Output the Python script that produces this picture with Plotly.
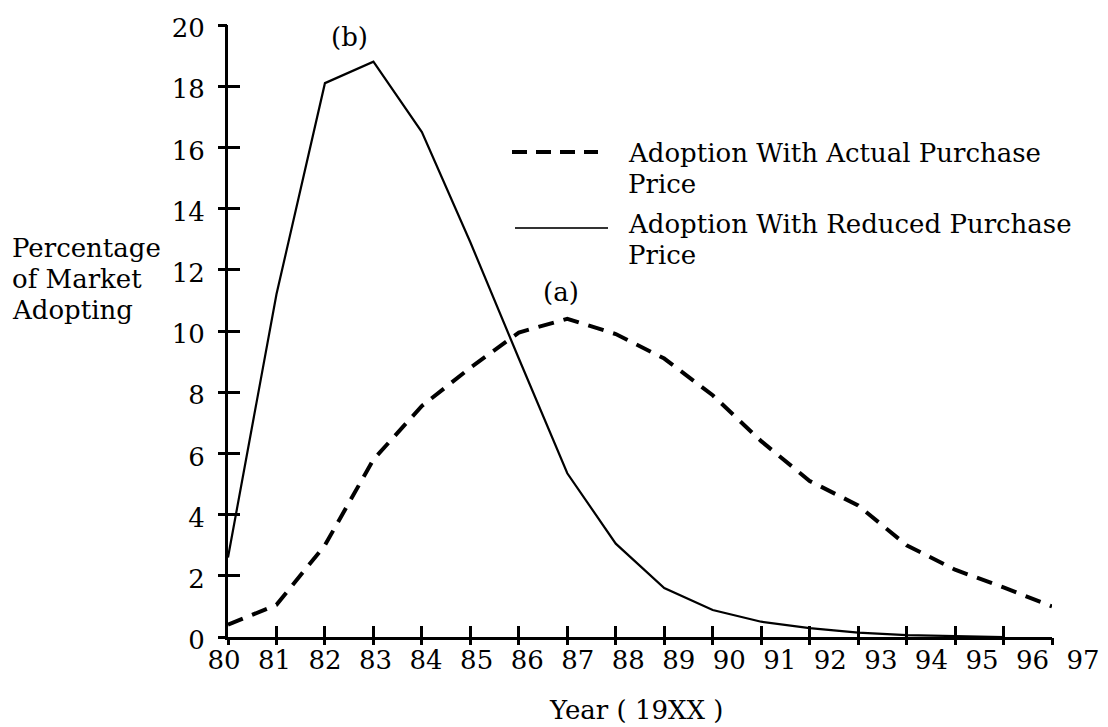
import plotly.graph_objects as go

# ---- data ----
years_reduced = [80, 81, 82, 83, 84, 85, 86, 87, 88, 89, 90, 91, 92, 93, 94, 95, 96]
adopt_reduced = [2.6, 11.2, 18.1, 18.8, 16.5, 12.9, 9.1, 5.35, 3.05, 1.6, 0.88, 0.5, 0.29, 0.14, 0.06, 0.02, 0.0]
years_actual = [80, 81, 82, 83, 84, 85, 86, 87, 88, 89, 90, 91, 92, 93, 94, 95, 96, 97]
adopt_actual = [0.4, 1.05, 3.0, 5.8, 7.55, 8.8, 9.95, 10.4, 9.9, 9.1, 7.9, 6.4, 5.1, 4.3, 3.0, 2.2, 1.62, 1.0]
x_ticks = list(range(80, 98))
x_tick_labels = [str(v) for v in x_ticks]
y_ticks = list(range(0, 21, 2))
y_tick_labels = [str(v) for v in y_ticks]
series_names = ["Adoption With Actual Purchase<br>Price", "Adoption With Reduced Purchase<br>Price"]

# ---- layout geometry ----
OFF = 8                      # page body margin offset
W, H = 1108 - 2 * OFF, 727 - OFF
L, R, T, B = 190, 2, 17, 90
PW, PH = W - L - R, H - T - B
FONT = "DejaVu Serif"
FS = 26


def px(xs):
    """screen x -> paper x"""
    return (xs - OFF - L) / PW


def py(ys):
    """screen y -> paper y"""
    return (H - B - (ys - OFF)) / PH


x_dom0 = px(228)
x_dom1 = px(1052)
lab_first, lab_last = 224, 1083          # screen centres of the "80" and "97" labels
lab_scale = (lab_last - lab_first) / 17
lab_r0 = 80 - ((lab_first - OFF) - L) / lab_scale
lab_r1 = lab_r0 + PW / lab_scale

fig = go.Figure()
fig.add_trace(go.Scatter(x=years_actual, y=adopt_actual, mode="lines", name=series_names[0],
                         line=dict(color="black", width=4, dash="16px,10px"), showlegend=False,
                         xaxis="x", yaxis="y"))
fig.add_trace(go.Scatter(x=years_reduced, y=adopt_reduced, mode="lines", name=series_names[1],
                         line=dict(color="black", width=2.2), showlegend=False,
                         xaxis="x", yaxis="y"))
# empty helper traces so that the auxiliary tick/label axes get drawn
for xa, ya in [("x2", "y"), ("x3", "y"), ("x", "y2")]:
    fig.add_trace(go.Scatter(x=[], y=[], xaxis=xa, yaxis=ya, showlegend=False, hoverinfo="skip"))

axis_common = dict(showgrid=False, zeroline=False, tickcolor="black", tickwidth=2.5, automargin=False)
fig.update_layout(
    template="none",
    width=W, height=H,
    margin=dict(l=L, r=R, t=T, b=B, autoexpand=False),
    paper_bgcolor="white", plot_bgcolor="rgba(0,0,0,0)",
    font=dict(family=FONT, size=FS, color="black"),
    xaxis=dict(domain=[x_dom0, x_dom1], range=[80, 97], tickmode="array", tickvals=x_ticks,
               ticks="inside", ticklen=11, showticklabels=False, showline=True,
               linecolor="black", linewidth=2.5, anchor="y", **axis_common),
    xaxis3=dict(overlaying="x", range=[80, 97], tickmode="array", tickvals=x_ticks,
                ticks="outside", ticklen=7, showticklabels=False, showline=False,
                anchor="y", **axis_common),
    xaxis2=dict(domain=[0, 1], range=[lab_r0, lab_r1], tickmode="array", tickvals=x_ticks,
                ticktext=x_tick_labels, ticks="", showline=False, anchor="y",
                ticklabelstandoff=5, ticklabeloverflow="allow",
                tickfont=dict(family=FONT, size=FS),
                showgrid=False, zeroline=False, automargin=False),
    yaxis=dict(domain=[0, 1], range=[0, 20], tickmode="array", tickvals=y_ticks,
               ticks="inside", ticklen=12, showticklabels=False, showline=True,
               linecolor="black", linewidth=2.5, anchor="x", **axis_common),
    yaxis2=dict(overlaying="y", range=[0, 20], tickmode="array", tickvals=y_ticks,
                ticktext=y_tick_labels, ticks="outside", ticklen=9, showline=False,
                anchor="x", side="left", ticklabelstandoff=8, ticklabelshift=3,
                ticklabeloverflow="allow",
                tickfont=dict(family=FONT, size=FS), **axis_common),
)

annots = []
annots.append(dict(x=82.51, y=19.6, xref="x", yref="y", text="(b)", showarrow=False,
                   xanchor="center", yanchor="middle"))
annots.append(dict(x=86.86, y=11.27, xref="x", yref="y", text="(a)", showarrow=False,
                   xanchor="center", yanchor="middle"))
for txt, ys in [("Percentage", 248), ("of Market", 279), ("Adopting", 310)]:
    annots.append(dict(x=px(10), y=py(ys), xref="paper", yref="paper", text=txt, showarrow=False,
                       xanchor="left", yanchor="middle"))
annots.append(dict(x=px(547), y=py(710), xref="paper", yref="paper", text="Year ( 19XX )",
                   showarrow=False, xanchor="left", yanchor="middle"))
for txt, ys in [("Adoption With Actual Purchase", 153), ("Price", 184),
                ("Adoption With Reduced Purchase", 224), ("Price", 255)]:
    annots.append(dict(x=px(626), y=py(ys), xref="paper", yref="paper", text=txt, showarrow=False,
                       xanchor="left", yanchor="middle"))
fig.update_layout(annotations=annots)

fig.add_shape(type="line", xref="paper", yref="paper", x0=px(512), x1=px(598), y0=py(152), y1=py(152),
              line=dict(color="black", width=4, dash="15px,9px"))
fig.add_shape(type="line", xref="paper", yref="paper", x0=px(515), x1=px(608), y0=py(228), y1=py(228),
              line=dict(color="#333333", width=2))

fig.write_html("out.html")
